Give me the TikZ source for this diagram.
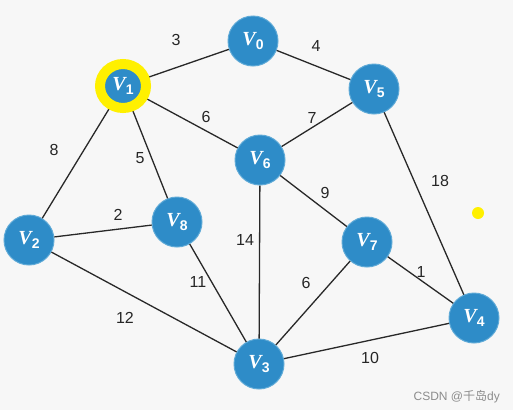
\documentclass[tikz,border=0pt]{standalone}
\usepackage{fontspec}
\setmainfont{Liberation Serif}
\setsansfont{Liberation Sans}
\newfontfamily\cjkfont{Noto Sans CJK SC}
\definecolor{nodeblue}{RGB}{46,140,200}
\definecolor{rimblue}{RGB}{95,170,215}
\definecolor{bgc}{RGB}{247,247,247}
\definecolor{hiyellow}{RGB}{255,240,0}
\definecolor{edgec}{RGB}{40,40,40}
\definecolor{wmc}{RGB}{140,140,140}
\begin{document}
\begin{tikzpicture}[x=1pt,y=-1pt,
  vert/.style={circle,fill=nodeblue,draw=rimblue,line width=1pt,minimum size=50pt,inner sep=0pt,text=white,font=\fontsize{20}{20}\selectfont\bfseries\itshape},
  edge/.style={draw=edgec,line width=1.3pt},
  wlabel/.style={font=\sffamily\fontsize{16}{16}\selectfont,text=black!85,inner sep=0pt}]
\fill[bgc] (0,0) rectangle (513,410);
\useasboundingbox (0,0) rectangle (513,410);
\newcommand{\vlab}[1]{V\raisebox{-0.35ex}{\fontsize{14}{14}\selectfont\upshape\sffamily\bfseries #1}}
\node[vert] (v0) at (253,41) {\vlab{0}};
\node[vert] (v1) at (123,86) {\vlab{1}};
\node[vert] (v5) at (374,89) {\vlab{5}};
\node[vert] (v6) at (260,160) {\vlab{6}};
\node[vert] (v2) at (29,240) {\vlab{2}};
\node[vert] (v8) at (177,222) {\vlab{8}};
\node[vert] (v7) at (367,242) {\vlab{7}};
\node[vert] (v4) at (474,318) {\vlab{4}};
\node[vert] (v3) at (259,364) {\vlab{3}};
\begin{scope}[on background layer/.style={}]
\end{scope}
\begin{pgfinterruptboundingbox}\end{pgfinterruptboundingbox}
% edges
\path[edge] (v0) -- (v1);
\path[edge] (v0) -- (v5);
\path[edge] (v1) -- (v6);
\path[edge] (v1) -- (v2);
\path[edge] (v1) -- (v8);
\path[edge] (v5) -- (v6);
\path[edge] (v5) -- (v4);
\path[edge] (v6) -- (v7);
\path[edge] (v6) -- (v3);
\path[edge] (v2) -- (v8);
\path[edge] (v2) -- (v3);
\path[edge] (v8) -- (v3);
\path[edge] (v7) -- (v3);
\path[edge] (v7) -- (v4);
\path[edge] (v3) -- (v4);
% highlight
\draw[hiyellow,line width=10pt] (123,86) ellipse (23pt and 22pt);
\fill[hiyellow] (478,213) circle (6pt);
% weights
\node[wlabel] (w01) at (176,40) {3};
\node[wlabel] (w05) at (316,46) {4};
\node[wlabel] (w16) at (206,117) {6};
\node[wlabel] (w56) at (312,118) {7};
\node[wlabel] (w12) at (54,150) {8};
\node[wlabel] (w18) at (140,158) {5};
\node[wlabel] (w54) at (440,181) {18};
\node[wlabel] (w67) at (325,193) {9};
\node[wlabel] (w28) at (118,215) {2};
\node[wlabel] (w63) at (245,240) {14};
\node[wlabel] (w83) at (198,282) {11};
\node[wlabel] (w73) at (306,283) {6};
\node[wlabel] (w74) at (421,272) {1};
\node[wlabel] (w23) at (125,318) {12};
\node[wlabel] (w34) at (370,358) {10};
\node[anchor=east,inner sep=0pt,text=wmc,font=\sffamily\fontsize{12}{12}\selectfont] (wm) at (500,397) {CSDN @{\cjkfont 千岛}dy};
\end{tikzpicture}
\end{document}
